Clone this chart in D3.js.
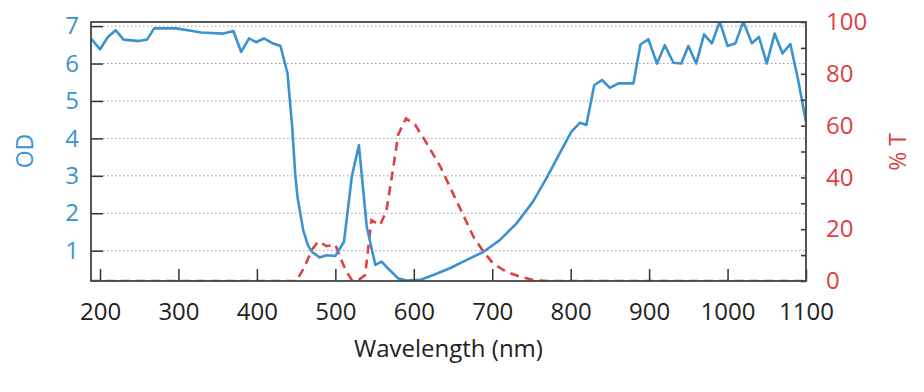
<!DOCTYPE html>
<html>
<head>
<meta charset="utf-8">
<script src="https://cdn.jsdelivr.net/npm/d3@7"></script>
<style>
  body { margin: 0; background: #fff; }
  svg { display: block; }
</style>
</head>
<body>
<svg></svg>
<script>
var width = 924
var height = 392
var margin = {top: 22, right: 118, bottom: 111, left: 91}

// OD curve (blue, left axis)
var odWavelength = [188.5, 200, 210, 220, 230, 250, 260, 269, 297, 312, 329, 357, 370, 380, 390, 399, 409, 420, 430, 439, 445, 449, 452, 459, 465, 470, 480, 489, 500, 511, 521, 530, 540, 551, 559, 567, 580, 591, 608, 625, 646, 667, 689, 710, 731, 752, 769, 786, 801, 812, 820, 830, 840, 850, 861, 880, 889, 899, 910, 920, 931, 941, 950, 960, 970, 980, 990, 1000, 1010, 1020, 1031, 1040, 1050, 1060, 1070, 1080, 1090, 1100]
var odValues = [6.67, 6.38, 6.71, 6.89, 6.64, 6.60, 6.64, 6.94, 6.94, 6.89, 6.83, 6.80, 6.87, 6.31, 6.67, 6.57, 6.67, 6.54, 6.47, 5.74, 4.3, 3.0, 2.4, 1.55, 1.15, 0.97, 0.82, 0.88, 0.86, 1.24, 2.98, 3.82, 1.64, 0.62, 0.71, 0.53, 0.26, 0.2, 0.22, 0.35, 0.53, 0.75, 0.97, 1.29, 1.73, 2.31, 2.93, 3.60, 4.18, 4.42, 4.36, 5.42, 5.56, 5.35, 5.47, 5.47, 6.51, 6.65, 6.0, 6.49, 6.02, 6.0, 6.47, 6.0, 6.78, 6.54, 7.12, 6.47, 6.54, 7.12, 6.54, 6.71, 6.0, 6.8, 6.27, 6.52, 5.56, 4.44]

// % T curve (red dashed, right axis)
var tWavelength = [188.5, 450, 460, 470, 478, 489, 500, 507, 514, 522, 530, 538, 546, 557, 565, 574, 580, 590, 602, 614, 634, 648, 663, 676, 689, 701, 718, 735, 752, 770, 1100]
var tValues = [0, 0, 5, 12, 15.2, 13.5, 14, 8.5, 3.6, 0, 0.5, 2.3, 23.5, 21.6, 27, 44, 56.4, 62.8, 60.2, 54.4, 44.1, 35.1, 25.5, 17.1, 11.3, 6.8, 3.6, 1.7, 0.4, 0, 0]

var xTicks = [200, 300, 400, 500, 600, 700, 800, 900, 1000, 1100]
var odTicks = [1, 2, 3, 4, 5, 6, 7]
var tTicks = [0, 10, 20, 30, 40, 50, 60, 70, 80, 90, 100]

var blue = "#3a93d0"
var red = "#e0403f"
var font = "'Open Sans', 'Noto Sans', sans-serif"

var x = d3.scaleLinear()
  .domain([188.5, 1100])
  .range([margin.left, width - margin.right])

var yOd = d3.scaleLinear()
  .domain([0.19, 7.11])
  .range([height - margin.bottom, margin.top])

var yT = d3.scaleLinear()
  .domain([0, 100])
  .range([height - margin.bottom, margin.top])

var svg = d3.select("svg")
  .attr("width", width)
  .attr("height", height)

svg.append("clipPath")
  .attr("id", "plot")
  .append("rect")
  .attr("x", margin.left)
  .attr("y", margin.top)
  .attr("width", width - margin.left - margin.right)
  .attr("height", height - margin.top - margin.bottom)

// dotted grid
svg.append("g")
  .selectAll("line")
  .data(odTicks)
  .enter()
    .append("line")
    .attr("x1", margin.left)
    .attr("x2", width - margin.right)
    .attr("y1", d => yOd(d))
    .attr("y2", d => yOd(d))
    .attr("stroke", "#9a9a9a")
    .attr("stroke-width", 1)
    .attr("stroke-dasharray", "1.5,2.5")

var lineOd = d3.line()
  .x((d, i) => x(odWavelength[i]))
  .y(d => yOd(d))

var lineT = d3.line()
  .x((d, i) => x(tWavelength[i]))
  .y(d => yT(d))

svg.append("path")
  .datum(tValues)
  .attr("clip-path", "url(#plot)")
  .attr("d", lineT)
  .attr("fill", "none")
  .attr("stroke", red)
  .attr("stroke-width", 2.6)
  .attr("stroke-dasharray", "9,6")

svg.append("path")
  .datum(odValues)
  .attr("clip-path", "url(#plot)")
  .attr("d", lineOd)
  .attr("fill", "none")
  .attr("stroke", blue)
  .attr("stroke-width", 2.6)
  .attr("stroke-linejoin", "round")

// axes
var xAxis = d3.axisBottom(x)
  .tickValues(xTicks)
  .tickFormat(d3.format("d"))
  .tickSizeInner(-12)
  .tickSizeOuter(0)
  .tickPadding(22)

var leftAxis = d3.axisLeft(yOd)
  .tickValues(odTicks)
  .tickFormat(d3.format("d"))
  .tickSizeInner(-12)
  .tickSizeOuter(0)
  .tickPadding(12)

var rightAxis = d3.axisRight(yT)
  .tickValues(tTicks)
  .tickSizeInner(-5)
  .tickSizeOuter(0)
  .tickPadding(20)
  .tickFormat(d => d % 20 == 0 ? d : "")

var gx = svg.append("g")
  .attr("transform", "translate(0," + (height - margin.bottom) + ")")
  .call(xAxis)
gx.selectAll("text").attr("fill", "#222")

var gl = svg.append("g")
  .attr("transform", "translate(" + margin.left + ",0)")
  .call(leftAxis)
gl.selectAll("text").attr("fill", blue)

var gr = svg.append("g")
  .attr("transform", "translate(" + (width - margin.right) + ",0)")
  .call(rightAxis)
gr.selectAll("text").attr("fill", red)

svg.selectAll(".domain").remove()
svg.selectAll(".tick line").attr("stroke", "#333").attr("stroke-width", 1.5)
svg.selectAll(".tick text").style("font-family", font).style("font-size", "24px")

// frame
svg.append("rect")
  .attr("x", margin.left)
  .attr("y", margin.top)
  .attr("width", width - margin.left - margin.right)
  .attr("height", height - margin.top - margin.bottom)
  .attr("fill", "none")
  .attr("stroke", "#444")
  .attr("stroke-width", 1.8)

// titles
svg.append("text")
  .attr("x", (margin.left + width - margin.right) / 2)
  .attr("y", 357)
  .attr("text-anchor", "middle")
  .attr("fill", "#222")
  .style("font-family", font)
  .style("font-size", "24px")
  .text("Wavelength (nm)")

svg.append("text")
  .attr("transform", "translate(33,151) rotate(-90)")
  .attr("text-anchor", "middle")
  .attr("fill", blue)
  .style("font-family", font)
  .style("font-size", "23px")
  .text("OD")

svg.append("text")
  .attr("transform", "translate(906,152) rotate(-90)")
  .attr("text-anchor", "middle")
  .attr("fill", red)
  .style("font-family", font)
  .style("font-size", "23px")
  .text("% T")
</script>
</body>
</html>
